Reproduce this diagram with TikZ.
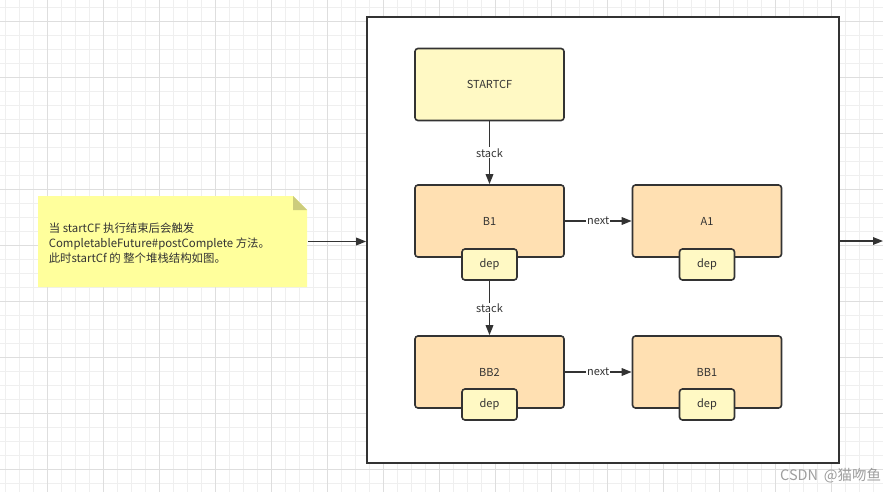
\documentclass[tikz,border=0pt]{standalone}
\usepackage{fontspec}
\setmainfont{Noto Sans CJK SC}
\usetikzlibrary{arrows.meta}
\definecolor{cfyellow}{HTML}{FFF9C4}
\definecolor{cforange}{HTML}{FFE0B2}
\definecolor{noteyellow}{HTML}{FFFF9C}
\definecolor{notefold}{HTML}{CCCC7C}
\definecolor{linegray}{HTML}{333333}
\definecolor{gridminor}{HTML}{EFEFEF}
\definecolor{gridmajor}{HTML}{DEDEDE}

\begin{document}
\begin{tikzpicture}[x=1pt,y=-1pt,>={Triangle[length=10pt,width=7.5pt]},
  line width=1.6pt,
  cf node/.style={rectangle,rounded corners=3pt,draw=linegray,fill=cforange,
    minimum width=149pt,minimum height=72pt,font=\fontsize{11}{13}\selectfont,text=linegray},
  dep node/.style={rectangle,rounded corners=3pt,draw=linegray,fill=cfyellow,
    minimum width=55pt,minimum height=31pt,font=\fontsize{11}{13}\selectfont,text=linegray},
  link/.style={->,draw=linegray},
  link label/.style={fill=white,inner sep=1pt,font=\fontsize{11}{13}\selectfont,text=linegray}]

  \useasboundingbox (0,0) rectangle (883,492);
  \fill[white] (0,0) rectangle (883,492);

  % background grid
  \foreach \gx in {5,19,...,883} \draw[gridminor,line width=0.6pt] (\gx,0) -- (\gx,492);
  \foreach \gy in {7,21,...,492} \draw[gridminor,line width=0.6pt] (0,\gy) -- (883,\gy);
  \foreach \gx in {47,103,...,883} \draw[gridmajor,line width=0.6pt] (\gx,0) -- (\gx,492);
  \foreach \gy in {21,77,...,492} \draw[gridmajor,line width=0.6pt] (0,\gy) -- (883,\gy);

  % frame
  \node[rectangle,draw=linegray,fill=white,minimum width=472pt,minimum height=446pt] (frame) at (603,240) {};

  % note
  \fill[noteyellow] (38,196) -- (293,196) -- (307,210) -- (307,287) -- (38,287) -- cycle;
  \fill[notefold] (293,196) -- (293,210) -- (307,210) -- cycle;
  \node[inner sep=0pt,minimum width=269pt,minimum height=91pt] (note) at (172.5,241.5) {};
  \node[anchor=west,align=left,inner sep=0pt,font=\fontsize{11.4}{15}\selectfont,text=linegray] (notetext) at (48,243)
    {当 startCF 执行结束后会触发\\CompletableFuture\#postComplete 方法。\\此时startCf 的 整个堆栈结构如图。};

  % stack nodes
  \node[cf node,fill=cfyellow] (startcf) at (489.5,84.5) {STARTCF};
  \node[cf node] (b1) at (489.5,221) {B1};
  \node[cf node] (a1) at (707,221) {A1};
  \node[cf node] (bb2) at (489.5,372) {BB2};
  \node[cf node] (bb1) at (707,372) {BB1};

  \node[dep node] (b1dep) at (489.5,264.5) {dep};
  \node[dep node] (a1dep) at (707,264.5) {dep};
  \node[dep node] (bb2dep) at (489.5,404.5) {dep};
  \node[dep node] (bb1dep) at (707,404.5) {dep};

  \coordinate (out) at (883,241);

  \path[every node/.style={link label}]
    (startcf) edge[link] node {stack} (b1)
    (b1dep) edge[link] node {stack} (bb2)
    (b1) edge[link] node {next} (a1)
    (bb2) edge[link] node {next} (bb1)
    ;
  \draw[link] (note.east) -- (note.east -| frame.west);
  \draw[link] (frame.east |- out) -- (out);

  \node[anchor=east,inner sep=0pt,font=\fontsize{14.5}{16}\selectfont,text=black!38] (mark) at (882,476) {CSDN\hspace{0.4em}@猫吻鱼};
\end{tikzpicture}
\end{document}
